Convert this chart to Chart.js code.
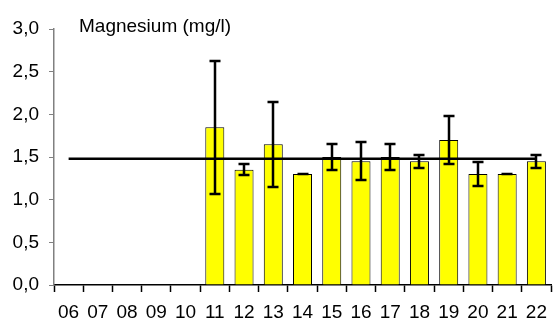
<!DOCTYPE html>
<html>
<head>
<meta charset="utf-8">
<script src="https://cdn.jsdelivr.net/npm/chart.js@4/dist/chart.umd.min.js"></script>
<style>
    html, body { margin: 0; padding: 0; background: #fff; }
    #wrap { width: 556px; height: 320px; position: relative; }
</style>
</head>
<body>
<div id="wrap"><canvas id="magnesiumChart"></canvas></div>
<script>
// Values
const years = ['06', '07', '08', '09', '10', '11', '12', '13', '14', '15', '16', '17', '18', '19', '20', '21', '22'];
const magnesium = [null, null, null, null, null, 1.85, 1.35, 1.65, 1.30, 1.50, 1.45, 1.50, 1.45, 1.70, 1.30, 1.30, 1.45];
const magnesiumErr = [null, null, null, null, null, 0.78, 0.065, 0.50, 0.005, 0.15, 0.22, 0.15, 0.075, 0.28, 0.14, 0.005, 0.075];
const meanLine = [1.48, 1.48, 1.48, 1.48, 1.48, 1.48, 1.48, 1.48, 1.48, 1.48, 1.48, 1.48, 1.48, 1.48, 1.48, 1.48, 1.48];
const yTicks = [0, 0.5, 1.0, 1.5, 2.0, 2.5, 3.0];
const chartTitle = 'Magnesium (mg/l)';

(function(){
    "use strict";

    const FONT = '"Liberation Sans", Arial, sans-serif';

    // Draws the min/max whiskers on top of the bars
    const errorBars = {
        id: 'errorBars',
        afterDatasetsDraw(chart) {
            const ctx = chart.ctx;
            const x = chart.scales.x;
            const y = chart.scales.y;
            ctx.save();
            ctx.strokeStyle = '#000';
            ctx.lineWidth = 2.5;
            magnesium.forEach((v, i) => {
                if (v === null) return;
                const e = magnesiumErr[i];
                const cx = Math.round(x.getPixelForValue(i));
                const top = Math.round(y.getPixelForValue(v + e));
                const bot = Math.round(y.getPixelForValue(v - e));
                ctx.beginPath();
                ctx.moveTo(cx, top);
                ctx.lineTo(cx, bot);
                ctx.moveTo(cx - 5.5, top);
                ctx.lineTo(cx + 5.5, top);
                ctx.moveTo(cx - 5.5, bot);
                ctx.lineTo(cx + 5.5, bot);
                ctx.stroke();
            });
            ctx.restore();
        }
    };

    // Title sits inside the plot, top left
    const innerTitle = {
        id: 'innerTitle',
        afterDraw(chart) {
            const ctx = chart.ctx;
            ctx.save();
            ctx.fillStyle = '#000';
            ctx.font = '19px ' + FONT;
            ctx.textBaseline = 'alphabetic';
            ctx.fillText(chartTitle, 79, 32);
            ctx.restore();
        }
    };

    const ctx = document.getElementById('magnesiumChart').getContext('2d');
    new Chart(ctx, {
        data: {
            labels: years,
            datasets: [
                {
                    type: 'line',
                    label: 'Mean',
                    data: meanLine,
                    borderColor: '#000',
                    borderWidth: 2.5,
                    pointRadius: 0,
                    fill: false,
                    order: 0,
                }, {
                    type: 'bar',
                    label: 'Magnesium',
                    data: magnesium,
                    backgroundColor: '#ffff00',
                    borderColor: '#000',
                    borderWidth: 1,
                    barPercentage: 0.65,
                    categoryPercentage: 1,
                    order: 1,
                }
            ]
        },
        options: {
            responsive: true,
            maintainAspectRatio: false,
            animation: false,
            layout: { padding: { top: 29, right: 1, bottom: 0, left: 0 } },
            plugins: {
                legend: { display: false },
                tooltip: { enabled: false },
            },
            scales: {
                x: {
                    offset: true,
                    grid: {
                        offset: true,
                        drawOnChartArea: false,
                        tickLength: 7,
                        tickColor: '#000',
                        tickWidth: 1.5,
                    },
                    border: { color: '#000', width: 1.5 },
                    ticks: {
                        color: '#000',
                        font: { family: FONT, size: 19 },
                        padding: 9,
                        maxRotation: 0,
                        autoSkip: false,
                    },
                    afterFit: (scale) => { scale.height = 35; },
                },
                y: {
                    min: 0,
                    max: 3,
                    afterBuildTicks: (scale) => { scale.ticks = yTicks.map(v => ({ value: v })); },
                    grid: {
                        drawOnChartArea: false,
                        tickLength: 5,
                        tickColor: '#808080',
                    },
                    border: { color: '#808080', width: 1.5 },
                    ticks: {
                        color: '#000',
                        font: { family: FONT, size: 19 },
                        padding: 10,
                        callback: (v) => Number(v).toFixed(1).replace('.', ','),
                    },
                    afterFit: (scale) => { scale.width = 54; },
                }
            }
        },
        plugins: [errorBars, innerTitle]
    });
})();
</script>
</body>
</html>
